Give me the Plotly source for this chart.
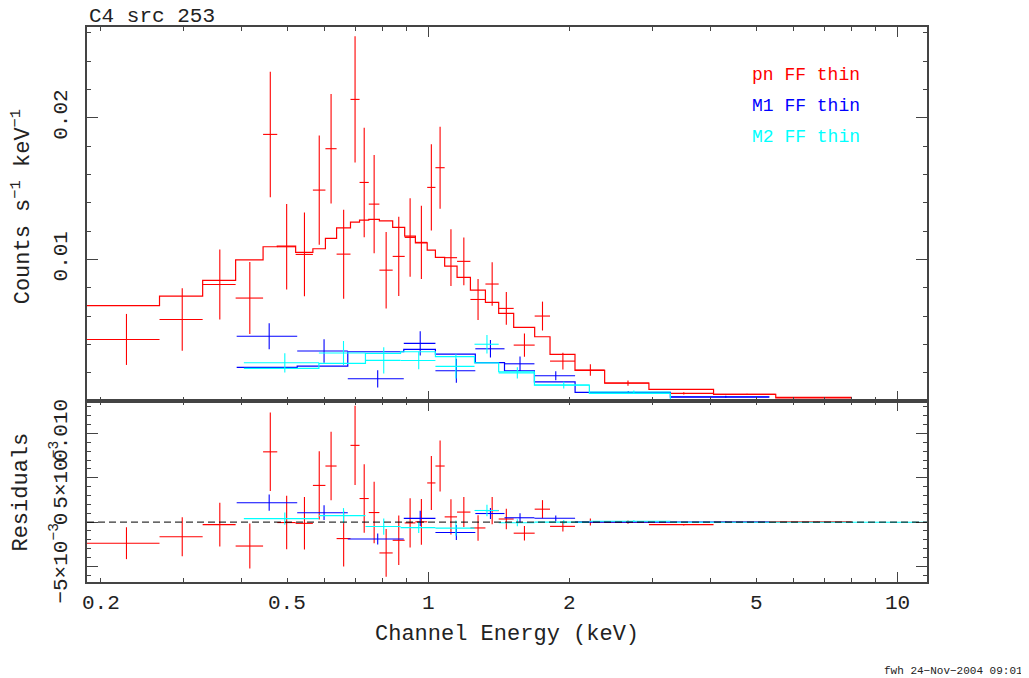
import numpy as np
import plotly.graph_objects as go
from plotly.subplots import make_subplots

# pn (red): channel edges (keV), count rate, 1-sigma error, folded model (counts/s/keV)
pn_edges = [0.187, 0.267, 0.330, 0.388, 0.444, 0.476, 0.521, 0.567, 0.603, 0.637, 0.682,
            0.713, 0.746, 0.786, 0.839, 0.890, 0.938, 0.994, 1.035, 1.083, 1.151, 1.229,
            1.323, 1.412, 1.520, 1.685, 1.817, 2.054, 2.376, 2.953, 4.056, 5.505, 7.994]
pn_rate = [0.00435, 0.00576, 0.00823, 0.00727, 0.01882, 0.01089, 0.01035, 0.01489,
           0.01781, 0.01037, 0.02129, 0.01543, 0.01390, 0.00924, 0.01021, 0.01155,
           0.01120, 0.01508, 0.01647, 0.01012, 0.00986, 0.00717, 0.00826, 0.00654,
           0.00395, 0.00600, 0.00282, 0.00219, 0.00127, 0.00054, 0.00047, 0.00026]
pn_err = [0.00180, 0.00220, 0.00247, 0.00254, 0.00443, 0.00302, 0.00296, 0.00385,
          0.00386, 0.00314, 0.00446, 0.00386, 0.00347, 0.00270, 0.00279, 0.00277,
          0.00259, 0.00305, 0.00289, 0.00200, 0.00169, 0.00144, 0.00153, 0.00115,
          0.00082, 0.00102, 0.00059, 0.00040, 0.00018, 0.00008, 0.00005, 0.00003]
pn_model = [0.00673, 0.00741, 0.00852, 0.00997, 0.01089, 0.01094, 0.01049, 0.01075,
            0.01148, 0.01223, 0.01263, 0.01277, 0.01282, 0.01272, 0.01226, 0.01164,
            0.01117, 0.01066, 0.01014, 0.00953, 0.00873, 0.00783, 0.00696, 0.00619,
            0.00520, 0.00454, 0.00330, 0.00217, 0.00127, 0.00083, 0.00047, 0.00023]

# M1 (blue)
m1_edges = [0.390, 0.525, 0.673, 0.886, 1.035, 1.259, 1.453, 1.683, 2.055, 3.281, 5.334]
m1_rate = [0.00457, 0.00353, 0.00157, 0.00407, 0.00214, 0.00369, 0.00263, 0.00179, 0.00061, 0.00030]
m1_err = [0.00092, 0.00083, 0.00061, 0.00085, 0.00085, 0.00062, 0.00051, 0.00032, 0.00010, 0.00007]
m1_model = [0.00238, 0.00247, 0.00348, 0.00365, 0.00332, 0.00272, 0.00214, 0.00136, 0.00061, 0.00028]

# M2 (cyan)
m2_edges = [0.404, 0.584, 0.734, 0.872, 1.035, 1.254, 1.412, 1.683, 2.204, 3.281, 12.5]
m2_rate = [0.00270, 0.00339, 0.00287, 0.00286, 0.00245, 0.00401, 0.00199, 0.00113, 0.00064, 0.00008]
m2_err = [0.00068, 0.00085, 0.00092, 0.00062, 0.00085, 0.00065, 0.00039, 0.00024, 0.00010, 0.00003]
m2_model = [0.00231, 0.00266, 0.00337, 0.00348, 0.00313, 0.00270, 0.00207, 0.00113, 0.00054, 0.00009]

datasets = [
    ("pn FF thin", "#ff0000", pn_edges, pn_rate, pn_err, pn_model),
    ("M1 FF thin", "#0000ff", m1_edges, m1_rate, m1_err, m1_model),
    ("M2 FF thin", "#00ffff", m2_edges, m2_rate, m2_err, m2_model),
]

x_range = [0.187, 11.57]
x_labels = [0.2, 0.5, 1, 2, 5, 10]
x_major = [1, 10]
x_minor = [0.2, 0.3, 0.4, 0.5, 0.6, 0.7, 0.8, 0.9, 2, 3, 4, 5, 6, 7, 8, 9]

FONT = "Liberation Mono"
AX = "#444444"

fig = make_subplots(rows=2, cols=1, shared_xaxes=True, vertical_spacing=0,
                    row_heights=[0.674, 0.326])

for name, color, edges, rate, err, model in datasets:
    lo = np.array(edges[:-1])
    hi = np.array(edges[1:])
    centre = (lo + hi) / 2
    half = (hi - lo) / 2
    rate = np.array(rate)
    model = np.array(model)
    resid = rate - model

    # folded model as a histogram
    fig.add_trace(go.Scatter(x=edges, y=list(model) + [model[-1]], mode="lines",
                             line=dict(color=color, width=1.2, shape="hv"),
                             hoverinfo="skip"), row=1, col=1)
    # data crosses
    for yv, r in [(rate, 1), (resid, 2)]:
        fig.add_trace(go.Scatter(
            x=centre, y=yv, mode="markers", marker=dict(size=0.1, color=color),
            error_x=dict(type="data", array=half, color=color, thickness=1.1, width=0),
            error_y=dict(type="data", array=err, color=color, thickness=1.1, width=0),
            name=name), row=r, col=1)

# dashed zero line in the residual panel
fig.add_hline(y=0, line=dict(color="black", width=1, dash="7px,4px"), row=2, col=1)

axis_style = dict(showline=True, linecolor=AX, linewidth=1.5, mirror="ticks",
                  ticks="inside", tickcolor=AX, tickwidth=1.2, showgrid=False,
                  zeroline=False)

fig.update_xaxes(type="log", range=[np.log10(x_range[0]), np.log10(x_range[1])],
                 tickmode="array", tickvals=x_major, ticklen=10, showticklabels=False,
                 minor=dict(tickmode="array", tickvals=x_minor, ticklen=4, ticks="inside",
                            tickcolor=AX, tickwidth=1.2),
                 **axis_style)

fig.update_yaxes(range=[0, 0.0264], tickmode="array", tickvals=[0, 0.01, 0.02],
                 ticktext=["", "0.01", "0.02"], ticklen=11, tickangle=-90,
                 ticklabelstandoff=10,
                 minor=dict(tickmode="array", tickvals=[i * 0.002 for i in range(14)],
                            ticklen=4, ticks="inside", tickcolor=AX, tickwidth=1.2),
                 row=1, col=1, **axis_style)

fig.update_yaxes(range=[-0.00676, 0.01366], tickmode="array",
                 tickvals=[-0.005, 0, 0.005, 0.01],
                 ticktext=["\u22125\u00d710<sup>\u22123</sup>", "0",
                           "5\u00d710<sup>\u22123</sup>", "0.010"],
                 ticklen=11, tickangle=-90, ticklabelstandoff=10,
                 minor=dict(tickmode="array", tickvals=[i * 0.001 for i in range(-6, 14)],
                            ticklen=4, ticks="inside", tickcolor=AX, tickwidth=1.2),
                 row=2, col=1, **axis_style)

annotations = []
# x tick labels
for v in x_labels:
    annotations.append(dict(x=np.log10(v), xref="x2", y=-0.038, yref="paper",
                            text=f"{v:g}", showarrow=False, yanchor="middle",
                            font=dict(size=21)))
# axis titles and title
annotations += [
    dict(x=0.5, y=-0.094, xref="paper", yref="paper", text="Channel Energy (keV)",
         showarrow=False, yanchor="middle", font=dict(size=22)),
    dict(x=-0.078, y=0.676, xref="paper", yref="paper",
         text="Counts s<sup>\u22121</sup> keV<sup>\u22121</sup>", textangle=-90,
         showarrow=False, xanchor="center", yanchor="middle", font=dict(size=22)),
    dict(x=-0.078, y=0.162, xref="paper", yref="paper", text="Residuals",
         textangle=-90, showarrow=False, xanchor="center", yanchor="middle",
         font=dict(size=22)),
    dict(x=0, y=1.019, xref="paper", yref="paper", text="C4 src 253",
         showarrow=False, xanchor="left", yanchor="middle", font=dict(size=21)),
    dict(x=1.1167, y=-0.160, xref="paper", yref="paper", text="fwh 24\u2212Nov\u22122004 09:01",
         showarrow=False, xanchor="right", yanchor="middle", font=dict(size=11)),
]
# dataset labels
for i, (name, color, *_rest) in enumerate(datasets):
    annotations.append(dict(x=0.789, y=0.9135 - i * 0.0555, xref="paper", yref="paper",
                            text=name, showarrow=False, xanchor="left", yanchor="middle",
                            font=dict(size=18, color=color)))

# the page body adds an 8px offset, so the figure is 8px smaller on each side
fig.update_layout(width=1021, height=670, margin=dict(l=79, r=102, t=19, b=96),
                  plot_bgcolor="white", paper_bgcolor="white", showlegend=False,
                  font=dict(family=FONT, size=21, color="#222222"),
                  annotations=annotations)

fig.write_html("out.html")
